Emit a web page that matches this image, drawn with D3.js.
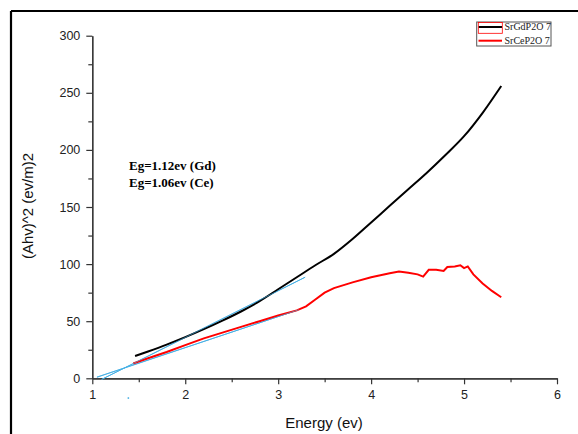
<!DOCTYPE html>
<html><head><meta charset="utf-8">
<script src="https://cdn.jsdelivr.net/npm/d3@7"></script>
<style>body{margin:0;background:#fff}svg{display:block}</style>
</head><body>
<svg id="c" width="578" height="434"></svg>
<script>
// ---- data ----
const gdEnergy = [1.46,1.6,1.8,2.0,2.2,2.4,2.6,2.8,3.0,3.2,3.4,3.6,3.8,4.0,4.2,4.4,4.6,4.8,5.0,5.2,5.4];
const gdValue  = [19.5,23.5,29.5,36,43,50.5,58.5,67.5,78,88.5,99,109,122,136.5,151,165.5,180,195.5,212,232.5,256];
const ceEnergy = [1.44,1.6,1.8,2.0,2.2,2.4,2.6,2.8,3.0,3.2,3.3,3.4,3.5,3.6,3.8,4.0,4.2,4.3,4.4,4.5,4.56,4.62,4.7,4.78,4.82,4.9,4.96,5.0,5.04,5.1,5.2,5.3,5.4];
const ceValue  = [13,17.5,23,29,35,40,45,50,55,59.5,63,69,75,79,84,88.5,92,93.5,92.5,91,89,95,95,94,97.5,98,99,96.5,98,91,83,76.5,71];
const tangentGdE = [1.10,3.29];
const tangentGdV = [-1,88.5];
const tangentCeE = [1.05,3.22];
const tangentCeV = [1,60];
const xTicks = [1,2,3,4,5,6];
const yTicks = [0,50,100,150,200,250,300];
const seriesNames = ["SrGdP2O 7","SrCeP2O 7"];
const notes = ["Eg=1.12ev (Gd)","Eg=1.06ev (Ce)"];

const svg = d3.select("#c");
const x = d3.scaleLinear().domain([1,6]).range([92.3,557]);
const y = d3.scaleLinear().domain([0,300]).range([378.3,35.7]);

// frame edges
svg.append("line").attr("x1",11).attr("y1",11).attr("x2",578).attr("y2",11).attr("stroke","#000").attr("stroke-width",2.2);
svg.append("line").attr("x1",11).attr("y1",11).attr("x2",11).attr("y2",434).attr("stroke","#000").attr("stroke-width",2.2);

const axisColor = "#333";
// x axis
const gx = svg.append("g").attr("transform",`translate(0,${y(0)})`);
gx.call(d3.axisBottom(x).tickValues(xTicks).tickSize(6).tickSizeOuter(0).tickPadding(6).tickFormat(d3.format("d")));
gx.append("g").call(d3.axisBottom(x).tickValues(d3.range(1.5,6,1)).tickSize(4).tickSizeOuter(0).tickFormat(""));
// y axis
const gy = svg.append("g").attr("transform",`translate(${x(1)},0)`);
gy.call(d3.axisLeft(y).tickValues(yTicks).tickSize(6).tickSizeOuter(0).tickPadding(6).tickFormat(d3.format("d")));
gy.append("g").call(d3.axisLeft(y).tickValues(d3.range(25,300,50)).tickSize(4).tickSizeOuter(0).tickFormat(""));
svg.selectAll(".domain").attr("stroke",axisColor).attr("stroke-width",1.2);
svg.selectAll(".tick line").attr("stroke",axisColor).attr("stroke-width",1.2);
svg.selectAll(".tick text").attr("fill","#222").style("font-family","'Liberation Sans',Arial,sans-serif").style("font-size","12.5px");

// axis titles
svg.append("text").attr("x",324).attr("y",428).attr("text-anchor","middle")
  .style("font-family","'Liberation Sans',Arial,sans-serif").style("font-size","15px").attr("fill","#111").text("Energy (ev)");
svg.append("text").attr("transform","translate(33,206) rotate(-90)").attr("text-anchor","middle")
  .style("font-family","'Liberation Sans',Arial,sans-serif").style("font-size","15px").attr("fill","#111").text("(Ahv)^2 (ev/m)2");

// tangent lines
const line = d3.line().x(d=>x(d[0])).y(d=>y(d[1]));
const smooth = d3.line().x(d=>x(d[0])).y(d=>y(d[1])).curve(d3.curveMonotoneX);
[[tangentGdE,tangentGdV],[tangentCeE,tangentCeV]].forEach(([e,v])=>{
  svg.append("path").datum(d3.zip(e,v)).attr("d",line).attr("fill","none").attr("stroke","#3aa8e0").attr("stroke-width",1);
});
// stray dot
svg.append("rect").attr("x",x(1.38)).attr("y",y(0)+19).attr("width",1.5).attr("height",1.5).attr("fill","#3aa8e0");

// curves
svg.append("path").datum(d3.zip(gdEnergy,gdValue)).attr("d",smooth).attr("fill","none").attr("stroke","#000").attr("stroke-width",2);
svg.append("path").datum(d3.zip(ceEnergy,ceValue)).attr("d",line).attr("fill","none").attr("stroke","#ff0000").attr("stroke-width",2);

// redraw tangent lines on top faintly
[[tangentGdE,tangentGdV],[tangentCeE,tangentCeV]].forEach(([e,v])=>{
  svg.append("path").datum(d3.zip(e,v)).attr("d",line).attr("fill","none").attr("stroke","#4ab4e8").attr("stroke-width",0.8).attr("opacity",0.8);
});

// annotation
notes.forEach((t,i)=>{
  svg.append("text").attr("x",129).attr("y",169.5+i*17).style("font-family","'Liberation Serif','Times New Roman',serif")
    .style("font-size","13px").style("font-weight","bold").attr("fill","#000").text(t);
});

// legend
const lg = svg.append("g");
lg.append("rect").attr("x",476.7).attr("y",22).attr("width",74.3).attr("height",24).attr("fill","#fff").attr("stroke","#555").attr("stroke-width",1);
const colors = ["#000","#ff0000"];
seriesNames.forEach((n,i)=>{
  const yy = 27 + i*13.7;
  lg.append("line").attr("x1",478.5).attr("x2",502).attr("y1",yy).attr("y2",yy).attr("stroke",colors[i]).attr("stroke-width",2);
  lg.append("text").attr("x",504.5).attr("y",yy+3.3).style("font-family","'Liberation Serif','Times New Roman',serif")
    .style("font-size","10px").attr("fill","#222").text(n);
});
lg.append("rect").attr("x",478.3).attr("y",22.5).attr("width",24).attr("height",10.8).attr("fill","none").attr("stroke","#ff0000").attr("stroke-width",0.8);
</script>
</body></html>
